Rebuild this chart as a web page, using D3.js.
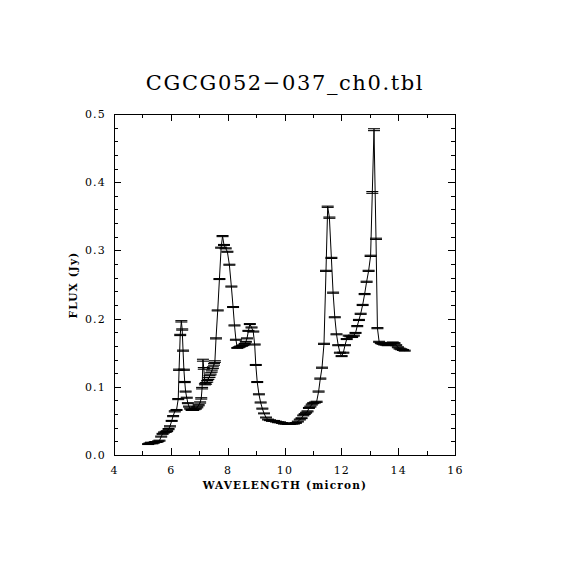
<!DOCTYPE html>
<html>
<head>
<meta charset="utf-8">
<script src="https://cdn.jsdelivr.net/npm/d3@7"></script>
<style>
  body { margin: 0; background: #fff; }
  text { font-family: "DejaVu Serif", serif; fill: #000; }
</style>
</head>
<body>
<div id="chart"></div>
<script>
// wavelength (micron)
var wave = [
    5.20, 5.25, 5.30, 5.35, 5.40, 5.45, 5.50, 5.55, 5.60,
    5.66, 5.71, 5.76, 5.82, 5.87, 5.92, 5.97, 6.03, 6.08, 6.14, 6.20,
    6.26, 6.29, 6.33, 6.37, 6.40, 6.43, 6.46, 6.49, 6.52, 6.56, 6.60, 6.64, 6.68, 6.73, 6.78, 6.83, 6.88,
    6.93, 6.98, 7.03, 7.07, 7.10, 7.13, 7.16, 7.20, 7.24, 7.28, 7.32, 7.36, 7.40, 7.44, 7.48, 7.52, 7.55, 7.59, 7.65,
    7.71, 7.77, 7.82, 7.87, 7.93, 7.99, 8.06, 8.13, 8.19, 8.24, 8.29, 8.34, 8.39, 8.44, 8.50, 8.55, 8.60, 8.64, 8.68, 8.73,
    8.78, 8.84, 8.90, 8.95, 8.99, 9.04, 9.10, 9.16, 9.22, 9.28, 9.35, 9.42, 9.49, 9.56, 9.63, 9.70, 9.77, 9.84, 9.91, 9.98,
    10.05, 10.12, 10.19, 10.26, 10.33, 10.40, 10.47, 10.54, 10.60, 10.66, 10.71, 10.76, 10.81, 10.86, 10.91, 10.96, 11.01, 11.07, 11.13, 11.20,
    11.26, 11.32, 11.39, 11.46, 11.52, 11.58, 11.65, 11.71, 11.77, 11.83, 11.89, 11.95, 12.01, 12.07, 12.13, 12.19, 12.26, 12.32, 12.38, 12.44,
    12.50, 12.56, 12.62, 12.68, 12.75, 12.82, 12.89, 12.96, 13.03, 13.09, 13.15, 13.22, 13.27, 13.33, 13.39, 13.45, 13.51, 13.57, 13.63, 13.69,
    13.75, 13.81, 13.87, 13.93, 13.99, 14.05, 14.11, 14.17, 14.23
];

// flux (Jy)
var flux = [
    0.016, 0.017, 0.018, 0.017, 0.018, 0.019, 0.019, 0.020, 0.021,
    0.027, 0.031, 0.033, 0.034, 0.035, 0.038, 0.042, 0.050, 0.057, 0.064, 0.066,
    0.082, 0.125, 0.176, 0.196, 0.184, 0.153, 0.125, 0.107, 0.093, 0.084, 0.076, 0.071, 0.068, 0.066, 0.066, 0.067, 0.068,
    0.070, 0.073, 0.077, 0.083, 0.098, 0.139, 0.127, 0.104, 0.105, 0.108, 0.112, 0.115, 0.119, 0.123, 0.128, 0.133, 0.137, 0.171, 0.212,
    0.258, 0.304, 0.321, 0.308, 0.303, 0.298, 0.279, 0.247, 0.217, 0.190, 0.169, 0.157, 0.158, 0.159, 0.160, 0.161, 0.163, 0.166, 0.171, 0.182,
    0.192, 0.187, 0.181, 0.162, 0.132, 0.107, 0.089, 0.077, 0.068, 0.061, 0.055, 0.052, 0.051, 0.050, 0.050, 0.049, 0.048, 0.048, 0.047, 0.046,
    0.046, 0.0455, 0.0455, 0.046, 0.046, 0.047, 0.049, 0.052, 0.054, 0.058, 0.060, 0.062, 0.064, 0.069, 0.071, 0.074, 0.076, 0.077, 0.078, 0.093,
    0.112, 0.128, 0.163, 0.270, 0.364, 0.348, 0.289, 0.238, 0.202, 0.177, 0.161, 0.150, 0.145, 0.150, 0.161, 0.170, 0.175, 0.174, 0.173, 0.175,
    0.179, 0.189, 0.198, 0.207, 0.220, 0.236, 0.254, 0.270, 0.292, 0.385, 0.477, 0.317, 0.186, 0.166, 0.164, 0.163, 0.162, 0.162, 0.161, 0.162,
    0.164, 0.165, 0.164, 0.161, 0.158, 0.156, 0.155, 0.154, 0.153
];

// flux uncertainty (Jy)
var ferr = [
    0.0006, 0.0006, 0.0007, 0.0006, 0.0006, 0.0007, 0.0006, 0.0006, 0.0007,
    0.0007, 0.0007, 0.0007, 0.0008, 0.0007, 0.0008, 0.0008, 0.0007, 0.0008, 0.0008, 0.0007,
    0.0008, 0.0009, 0.0009, 0.0010, 0.0009, 0.0008, 0.0008, 0.0008, 0.0007, 0.0007, 0.0007, 0.0007, 0.0007, 0.0007, 0.0007, 0.0007, 0.0007,
    0.0008, 0.0008, 0.0009, 0.0010, 0.0011, 0.0014, 0.0012, 0.0011, 0.0012, 0.0012, 0.0013, 0.0013, 0.0014, 0.0014, 0.0013, 0.0013, 0.0012, 0.0008, 0.0007,
    0.0007, 0.0007, 0.0008, 0.0007, 0.0007, 0.0007, 0.0007, 0.0007, 0.0007, 0.0007, 0.0007, 0.0006, 0.0006, 0.0006, 0.0006, 0.0006, 0.0006, 0.0006, 0.0007, 0.0007,
    0.0007, 0.0007, 0.0007, 0.0007, 0.0007, 0.0007, 0.0007, 0.0007, 0.0007, 0.0006, 0.0006, 0.0006, 0.0006, 0.0006, 0.0006, 0.0006, 0.0006, 0.0006, 0.0006, 0.0006,
    0.0006, 0.0006, 0.0006, 0.0006, 0.0006, 0.0006, 0.0006, 0.0006, 0.0006, 0.0006, 0.0006, 0.0006, 0.0007, 0.0007, 0.0007, 0.0007, 0.0007, 0.0007, 0.0008, 0.0008,
    0.0008, 0.0008, 0.0008, 0.0008, 0.0009, 0.0009, 0.0008, 0.0008, 0.0007, 0.0007, 0.0007, 0.0007, 0.0007, 0.0007, 0.0007, 0.0007, 0.0007, 0.0007, 0.0007, 0.0007,
    0.0007, 0.0008, 0.0008, 0.0008, 0.0008, 0.0008, 0.0008, 0.0008, 0.0009, 0.0013, 0.0014, 0.0009, 0.0008, 0.0007, 0.0007, 0.0007, 0.0007, 0.0007, 0.0007, 0.0007,
    0.0007, 0.0007, 0.0007, 0.0007, 0.0007, 0.0007, 0.0007, 0.0007, 0.0007
];

var xMajor = [4, 6, 8, 10, 12, 14, 16];
var xMinor = [5, 7, 9, 11, 13, 15];
var yMajor = [0.0, 0.1, 0.2, 0.3, 0.4, 0.5];
var yMinor = [0.02, 0.04, 0.06, 0.08, 0.12, 0.14, 0.16, 0.18, 0.22, 0.24, 0.26, 0.28,
              0.32, 0.34, 0.36, 0.38, 0.42, 0.44, 0.46, 0.48];

var title = "CGCG052\u2212037_ch0.tbl";

var points = wave.map(function(w, i) {
    return { w: w, f: flux[i], e: ferr[i] };
});

var W = 570, H = 570;
// plot frame in pixels (note: "top" is reserved on window, so use px*)
var pxL = 114, pxR = 455, pxT = 114, pxB = 455;

var x = d3.scaleLinear().domain([4, 16]).range([pxL, pxR]);
var y = d3.scaleLinear().domain([0, 0.5]).range([pxB, pxT]);

var svg = d3.select("#chart")
    .append("svg")
    .attr("width", W)
    .attr("height", H)
    .style("background", "#fff");

// title
svg.append("text")
    .attr("x", 285)
    .attr("y", 90)
    .attr("text-anchor", "middle")
    .style("font-size", "21px")
    .style("letter-spacing", "1.6px")
    .text(title);

// axes: major + minor ticks pointing inward, on all four sides
function tickStyle(g) {
    g.select(".domain").remove();
    g.selectAll("line").attr("stroke", "#000").attr("stroke-width", 1)
        .attr("shape-rendering", "crispEdges");
    g.selectAll("text").style("font-size", "11px").style("letter-spacing", "1.2px")
        .style("font-family", "DejaVu Serif, serif").attr("fill", "#000");
}

svg.append("g").attr("transform", "translate(0," + pxB + ")")
    .call(d3.axisBottom(x).tickValues(xMajor).tickSize(-7).tickPadding(11)
        .tickFormat(d3.format("d")))
    .call(tickStyle);
svg.append("g").attr("transform", "translate(0," + pxB + ")")
    .call(d3.axisBottom(x).tickValues(xMinor).tickSize(-4).tickFormat(""))
    .call(tickStyle);
svg.append("g").attr("transform", "translate(0," + pxT + ")")
    .call(d3.axisTop(x).tickValues(xMajor).tickSize(-7).tickFormat(""))
    .call(tickStyle);
svg.append("g").attr("transform", "translate(0," + pxT + ")")
    .call(d3.axisTop(x).tickValues(xMinor).tickSize(-4).tickFormat(""))
    .call(tickStyle);

svg.append("g").attr("transform", "translate(" + pxL + ",0)")
    .call(d3.axisLeft(y).tickValues(yMajor).tickSize(-7).tickPadding(8)
        .tickFormat(d3.format(".1f")))
    .call(tickStyle);
svg.append("g").attr("transform", "translate(" + pxL + ",0)")
    .call(d3.axisLeft(y).tickValues(yMinor).tickSize(-4).tickFormat(""))
    .call(tickStyle);
svg.append("g").attr("transform", "translate(" + pxR + ",0)")
    .call(d3.axisRight(y).tickValues(yMajor).tickSize(-7).tickFormat(""))
    .call(tickStyle);
svg.append("g").attr("transform", "translate(" + pxR + ",0)")
    .call(d3.axisRight(y).tickValues(yMinor).tickSize(-4).tickFormat(""))
    .call(tickStyle);

// frame
svg.append("rect")
    .attr("x", pxL)
    .attr("y", pxT)
    .attr("width", pxR - pxL)
    .attr("height", pxB - pxT)
    .attr("fill", "none")
    .attr("stroke", "#000")
    .attr("stroke-width", 1)
    .attr("shape-rendering", "crispEdges");

// axis labels
svg.append("text")
    .attr("x", 285)
    .attr("y", 489)
    .attr("text-anchor", "middle")
    .style("font-size", "10.5px")
    .style("font-weight", "bold")
    .style("letter-spacing", "1.2px")
    .text("WAVELENGTH (micron)");

svg.append("text")
    .attr("transform", "translate(77,285) rotate(-90)")
    .attr("text-anchor", "middle")
    .style("font-size", "10.5px")
    .style("font-weight", "bold")
    .style("letter-spacing", "1.2px")
    .text("FLUX (Jy)");

// spectrum
var line = d3.line()
    .x(function(d) { return x(d.w); })
    .y(function(d) { return y(d.f); });

svg.append("path")
    .datum(points)
    .attr("d", line)
    .attr("fill", "none")
    .attr("stroke", "#000")
    .attr("stroke-width", 1);

// error bars with caps
var cap = 6;
var bars = svg.append("g").attr("stroke", "#000");

bars.selectAll(".ebar")
    .data(points)
    .enter()
    .append("line")
    .attr("class", "ebar")
    .attr("x1", function(d) { return x(d.w); })
    .attr("x2", function(d) { return x(d.w); })
    .attr("y1", function(d) { return y(d.f - d.e); })
    .attr("y2", function(d) { return y(d.f + d.e); })
    .attr("stroke-width", 1);

bars.selectAll(".capLo")
    .data(points)
    .enter()
    .append("line")
    .attr("class", "capLo")
    .attr("x1", function(d) { return x(d.w) - cap; })
    .attr("x2", function(d) { return x(d.w) + cap; })
    .attr("y1", function(d) { return y(d.f - d.e); })
    .attr("y2", function(d) { return y(d.f - d.e); })
    .attr("stroke-width", 1.1);

bars.selectAll(".capHi")
    .data(points)
    .enter()
    .append("line")
    .attr("class", "capHi")
    .attr("x1", function(d) { return x(d.w) - cap; })
    .attr("x2", function(d) { return x(d.w) + cap; })
    .attr("y1", function(d) { return y(d.f + d.e); })
    .attr("y2", function(d) { return y(d.f + d.e); })
    .attr("stroke-width", 1.1);
</script>
</body>
</html>
